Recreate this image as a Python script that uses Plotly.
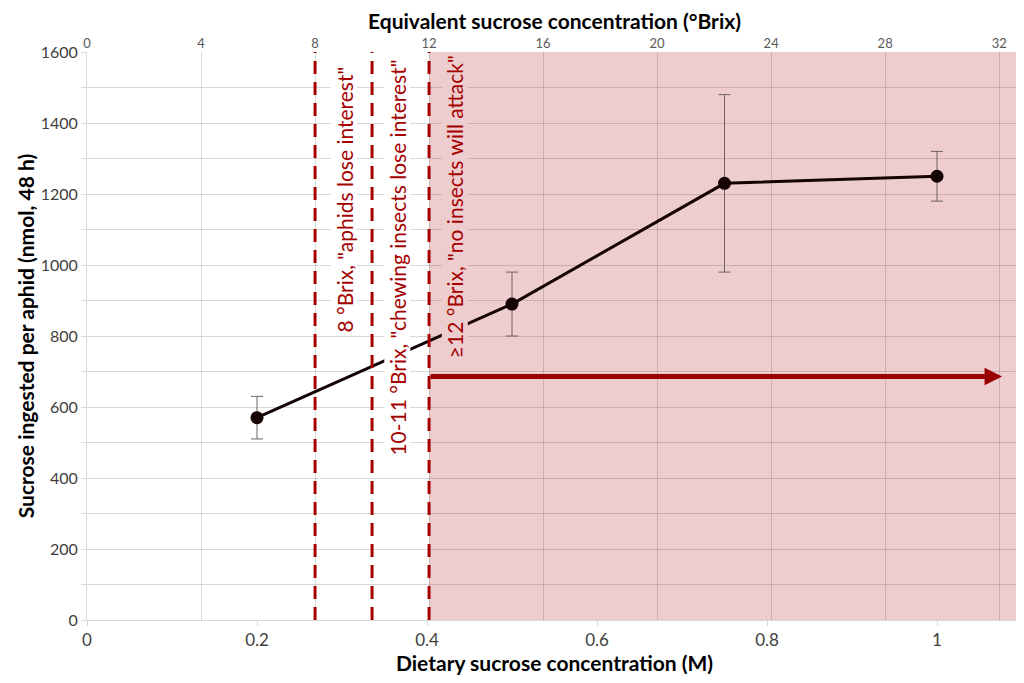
import plotly.graph_objects as go

# values
molar = [0.2, 0.5, 0.75, 1.0]
ingested = [570, 890, 1230, 1250]
err = [60, 90, 250, 70]

y_ticks = list(range(0, 1601, 100))
y_ticktext = [str(v) if v % 200 == 0 else '' for v in y_ticks]

brix_lines = [8, 10, 12]
brix_labels = ['8 °Brix, "aphids lose interest"',
               '10-11 °Brix, "chewing insects lose interest"',
               '≥12 °Brix, "no insects will attack"']
label_x = [9.0, 10.9, 12.9]
label_y = [1183, 1020, 1165]
label_bg = ['white', 'white', '#EECDCF']

arrow_start = 12
arrow_end = 32.1
arrow_y = 686

brix_max = 32.8
m_max = 1.1

RED = '#A50000'
GRID = 'rgba(0,0,0,0.15)'
FONT = 'Lato'

fig = go.Figure()

fig.add_trace(go.Scatter(
    x=molar, y=ingested,
    mode='lines+markers',
    line=dict(color='#150303', width=3),
    marker=dict(color='#150303', size=13),
    error_y=dict(type='data', array=err, color='#6E6262', thickness=1, width=6),
    showlegend=False, hoverinfo='x+y',
))

# dummy trace so the top (Brix) axis is drawn
fig.add_trace(go.Scatter(
    x=brix_lines, y=[0] * len(brix_lines), xaxis='x2',
    mode='markers', marker=dict(opacity=0), showlegend=False, hoverinfo='skip',
))

# shaded zone from 12 Brix upward
fig.add_shape(type='rect', xref='x2', yref='paper',
              x0=brix_lines[-1], x1=brix_max, y0=0, y1=1,
              fillcolor='#EECDCF', line_width=0, layer='below')

for b in brix_lines:
    fig.add_shape(type='line', xref='x2', yref='paper',
                  x0=b, x1=b, y0=0, y1=1,
                  line=dict(color=RED, width=3, dash='13px,8px'))

for txt, lx, ly, bg in zip(brix_labels, label_x, label_y, label_bg):
    fig.add_annotation(x=lx, y=ly, xref='x2', yref='y', text=txt,
                       textangle=-90, showarrow=False, bgcolor=bg, borderpad=0,
                       font=dict(family=FONT, size=21, color=RED))

fig.add_annotation(x=arrow_end, y=arrow_y, xref='x2', yref='y',
                   ax=arrow_start, ay=arrow_y, axref='x2', ayref='y',
                   text='', showarrow=True, arrowhead=2, arrowsize=0.7,
                   arrowwidth=5, arrowcolor='#9B0000')

# y title as an annotation so it can be placed freely
fig.add_annotation(x=-0.066, y=0.5, xref='paper', yref='paper',
                   text='<b>Sucrose ingested per aphid (nmol, 48 h)</b>',
                   textangle=-90, showarrow=False, xanchor='center', yanchor='middle',
                   font=dict(family=FONT, size=21, color='black'))

# page body adds an 8px offset, margins below account for it
fig.update_layout(
    width=1024, height=683,
    margin=dict(l=79, r=10, t=44, b=71),
    plot_bgcolor='white', paper_bgcolor='white',
    font=dict(family=FONT, color='#404040'),
    xaxis=dict(
        range=[0, m_max], tick0=0, dtick=0.2, showgrid=False, zeroline=False,
        showline=True, linecolor='#D9D9D9', ticks='outside', ticklen=5, tickcolor='#D9D9D9',
        tickfont=dict(size=17), automargin=False,
        title=dict(text='<b>Dietary sucrose concentration (M)</b>',
                   font=dict(size=21, color='black'), standoff=2),
    ),
    xaxis2=dict(
        range=[0, brix_max], tick0=0, dtick=4, overlaying='x', side='top',
        showgrid=True, gridcolor=GRID, zeroline=False, ticks='',
        tickfont=dict(size=13, color='#595959'), automargin=False,
        title=dict(text='<b>Equivalent sucrose concentration (°Brix)</b>',
                   font=dict(size=21, color='black'), standoff=7),
    ),
    yaxis=dict(
        range=[0, 1600], tickvals=y_ticks, ticktext=y_ticktext,
        showgrid=True, gridcolor=GRID, zeroline=False,
        showline=True, linecolor='#D9D9D9', ticks='outside', ticklen=5, tickcolor='#D9D9D9',
        tickfont=dict(size=16), automargin=False,
    ),
)

fig.write_html("out.html")
